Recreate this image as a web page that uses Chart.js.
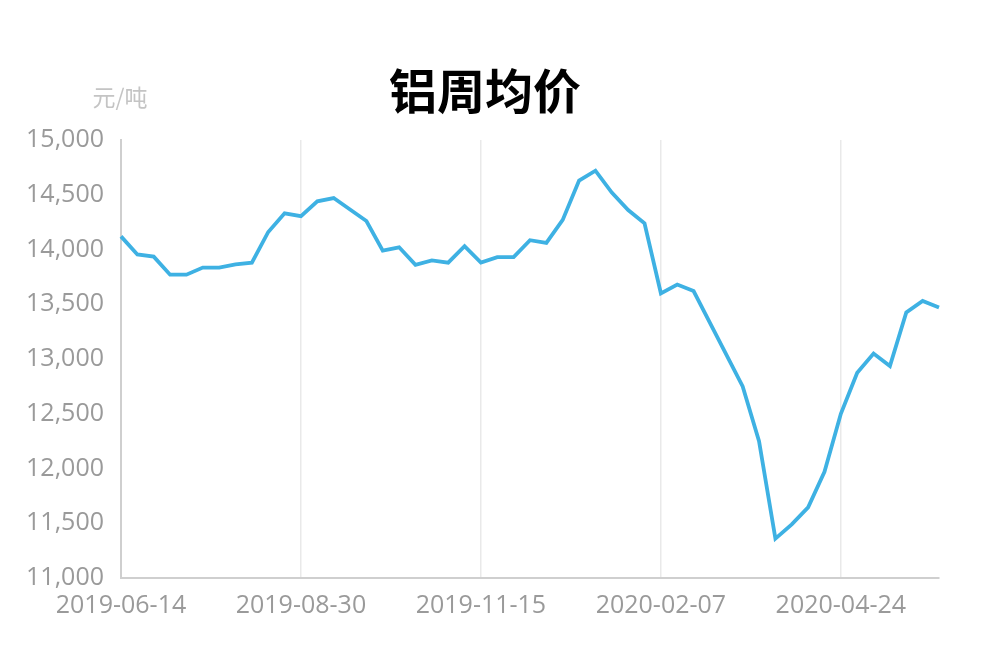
<!DOCTYPE html>
<html>
<head>
<meta charset="utf-8">
<script src="https://cdn.jsdelivr.net/npm/chart.js@4/dist/chart.umd.min.js"></script>
<style>
html,body{margin:0;padding:0;background:#fff;}
#wrap{width:1000px;height:660px;position:relative;}
</style>
</head>
<body>
<div id="wrap"><canvas id="c" width="1000" height="660"></canvas></div>
<script>
const chartTitle = '铝周均价';
const unitLabel = '元/吨';
const weeks = [
  '2019-06-14','2019-06-21','2019-06-28','2019-07-05','2019-07-12','2019-07-19','2019-07-26','2019-08-02','2019-08-09','2019-08-16','2019-08-23',
  '2019-08-30','2019-09-06','2019-09-13','2019-09-20','2019-09-27','2019-10-04','2019-10-11','2019-10-18','2019-10-25','2019-11-01','2019-11-08',
  '2019-11-15','2019-11-22','2019-11-29','2019-12-06','2019-12-13','2019-12-20','2019-12-27','2020-01-03','2020-01-10','2020-01-17','2020-01-23',
  '2020-02-07','2020-02-14','2020-02-21','2020-02-28','2020-03-06','2020-03-13','2020-03-20','2020-03-27','2020-04-03','2020-04-10','2020-04-17',
  '2020-04-24','2020-04-30','2020-05-08','2020-05-15','2020-05-22','2020-05-29','2020-06-05'
];
const prices = [
  14120,13955,13935,13770,13770,13835,13835,13865,13880,14160,14330,
  14305,14440,14470,14365,14260,13990,14020,13860,13900,13880,14030,
  13880,13930,13930,14085,14060,14270,14630,14720,14520,14360,14240,
  13600,13680,13620,13330,13040,12750,12250,11360,11490,11645,11970,
  12500,12875,13050,12935,13425,13530,13470
];
const shownDates = ['2019-06-14','2019-08-30','2019-11-15','2020-02-07','2020-04-24'];
const yTicks = [11000,11500,12000,12500,13000,13500,14000,14500,15000];

const tickFont = {family:'"Open Sans", "Noto Sans", sans-serif', size:25};
const tickColor = '#9a9a9a';

const textPlugin = {
  id:'texts',
  afterDraw(chart){
    const ctx = chart.ctx;
    ctx.save();
    ctx.fillStyle = '#000';
    ctx.font = 'bold 48px "Noto Sans CJK SC", sans-serif';
    ctx.textAlign = 'center';
    ctx.textBaseline = 'middle';
    ctx.fillText(chartTitle, 485, 91);
    ctx.fillStyle = '#c4c4c4';
    ctx.font = '23px "Noto Sans CJK SC", sans-serif';
    ctx.fillText(unitLabel, chart.chartArea.left - 1, 97);
    ctx.restore();
  }
};

new Chart(document.getElementById('c'), {
  type:'line',
  data:{
    labels:weeks,
    datasets:[{
      data:prices,
      borderColor:'#3eb1e3',
      borderWidth:3.8,
      pointRadius:0,
      pointHoverRadius:0,
      tension:0,
      fill:false
    }]
  },
  options:{
    responsive:false,
    animation:false,
    events:[],
    layout:{padding:{top:140,right:61,left:0,bottom:0}},
    plugins:{legend:{display:false},tooltip:{enabled:false},title:{display:false}},
    scales:{
      x:{
        type:'category',
        offset:false,
        grid:{
          drawTicks:false,
          lineWidth:1.5,
          color:(c)=> (c.tick && shownDates.includes(c.tick.label)) ? '#e9e9e9' : 'rgba(0,0,0,0)'
        },
        border:{display:true,color:'#cfcfcf',width:2},
        ticks:{
          autoSkip:false,
          maxRotation:0,
          minRotation:0,
          padding:13,
          color:tickColor,
          font:tickFont,
          callback:function(v,i){ const l = weeks[i]; return shownDates.includes(l) ? l : ''; }
        },
        afterFit:(s)=>{ s.height = 82; }
      },
      y:{
        min:11000,
        max:15000,
        afterBuildTicks:(s)=>{ s.ticks = yTicks.map(v=>({value:v})); },
        grid:{display:false,drawTicks:false},
        border:{display:true,color:'#cfcfcf',width:2},
        ticks:{
          padding:17,
          color:tickColor,
          font:tickFont,
          callback:(v)=> Number(v).toLocaleString('en-US')
        },
        afterFit:(s)=>{ s.width = 121; }
      }
    }
  },
  plugins:[textPlugin]
});
</script>
</body>
</html>
